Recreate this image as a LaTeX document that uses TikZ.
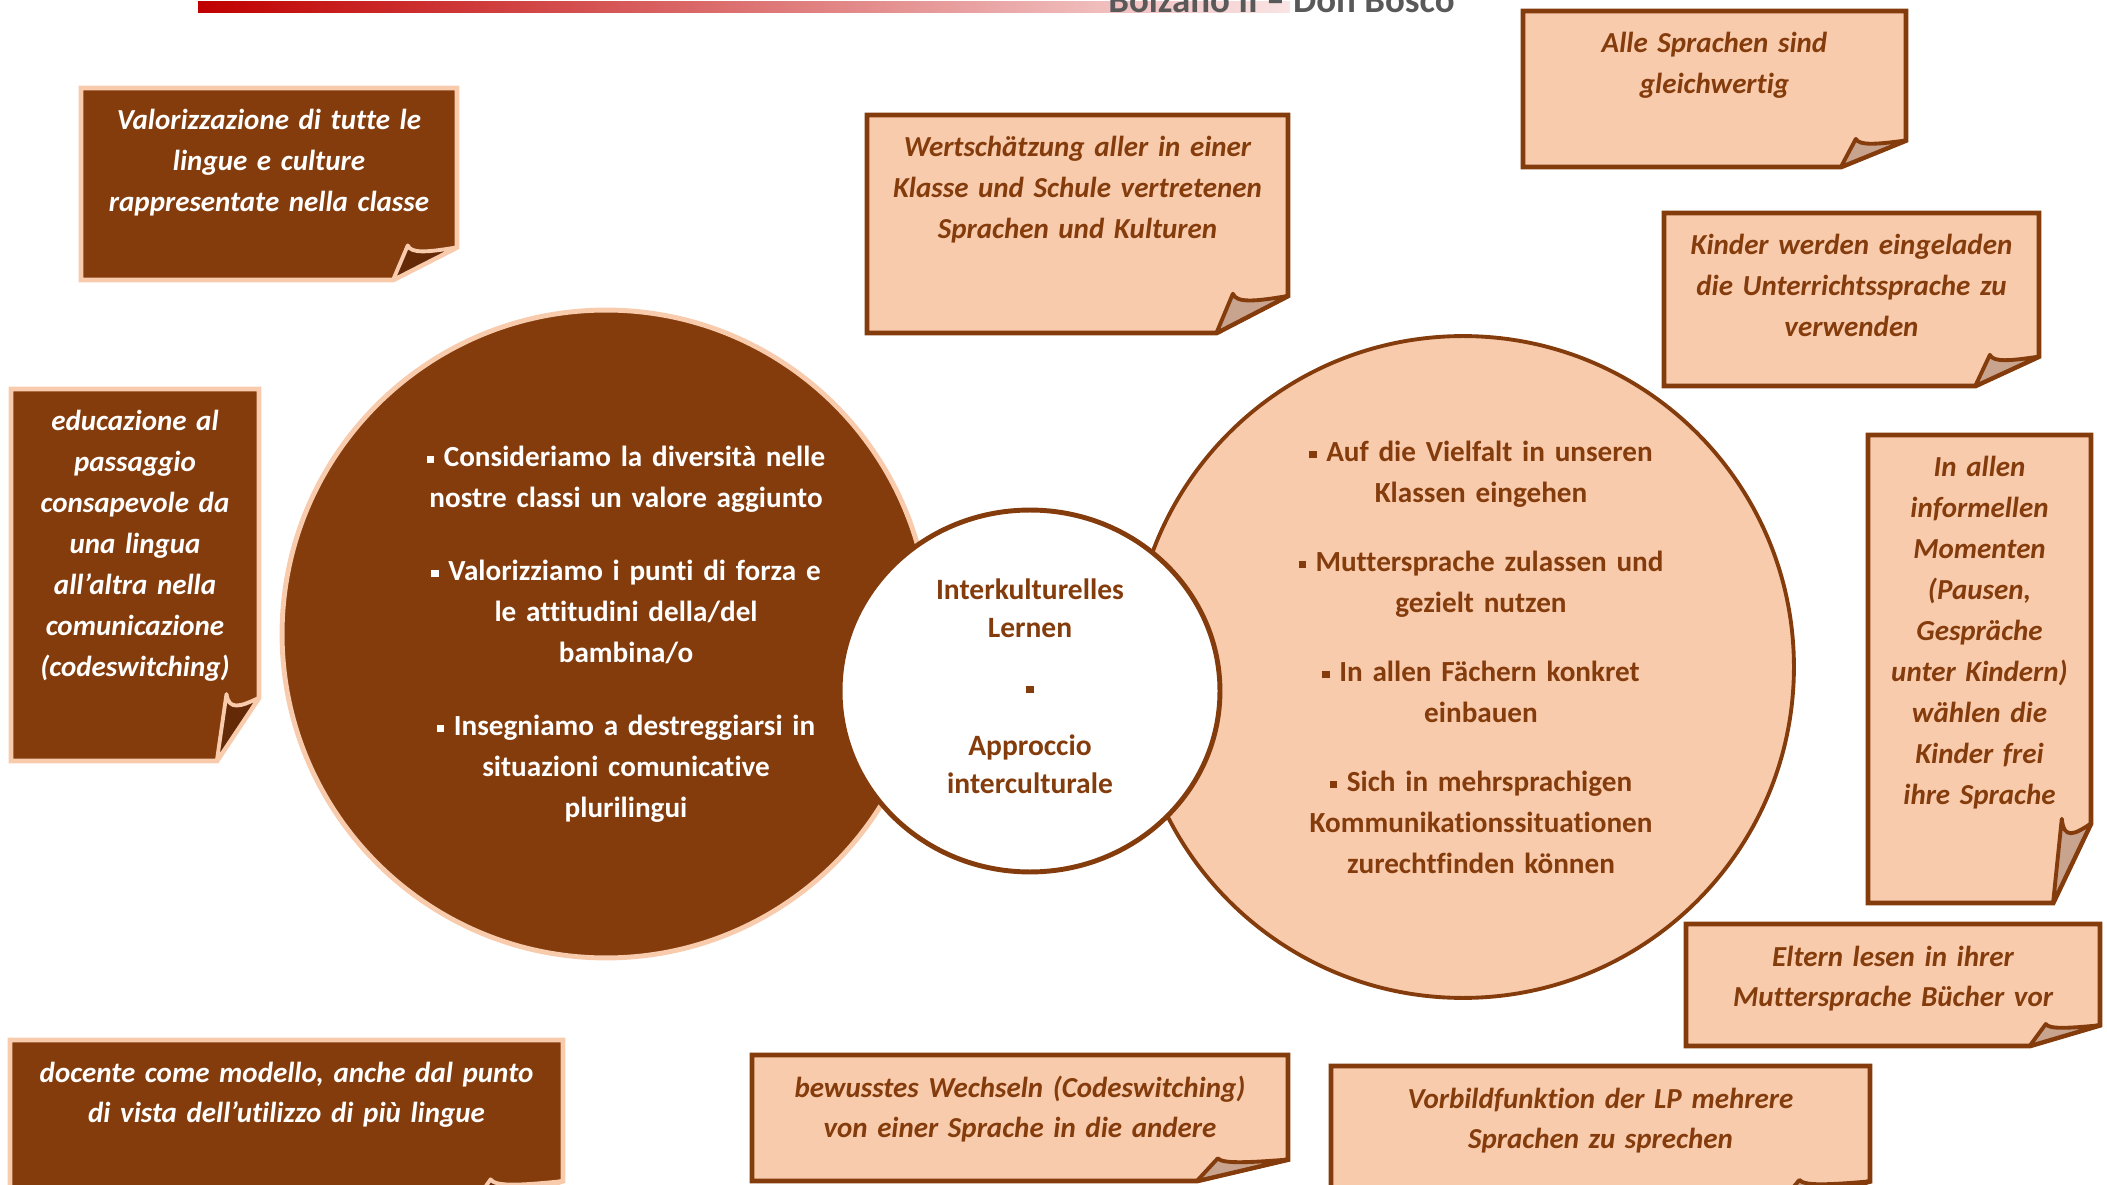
\documentclass[tikz,border=0pt]{standalone}
\usepackage{fontspec}
\setmainfont{Carlito}[Ligatures=NoCommon]
\usetikzlibrary{positioning}
\usetikzlibrary{calc}
\usetikzlibrary{shapes.geometric}

\definecolor{brn}{RGB}{132,60,12}
\definecolor{peach}{RGB}{248,203,173}
\definecolor{folddark}{RGB}{100,42,8}
\definecolor{foldlight}{RGB}{200,163,142}
\definecolor{headgray}{RGB}{89,89,89}
\definecolor{barred}{RGB}{192,0,0}
\definecolor{barpink}{RGB}{250,228,228}

\newcommand{\sqb}{\raisebox{0.12em}{\rule{0.25em}{0.25em}}}

\tikzset{
  darknote/.style={fill=brn, draw=peach, line width=2.8pt},
  lightnote/.style={fill=peach, draw=brn, line width=2.8pt},
  darkfold/.style={fill=folddark, draw=peach, line width=2.2pt, line join=round},
  lightfold/.style={fill=foldlight, draw=brn, line width=2.2pt, line join=round},
  notefont/.style={font=\fontsize{16.5}{23.3}\selectfont\bfseries\itshape, text width=12cm, align=center, inner sep=0pt, anchor=base},
  darktext/.style={notefont, text=white},
  lighttext/.style={notefont, text=brn},
  circtext/.style={font=\fontsize{16.6}{23.3}\selectfont\bfseries, text width=12cm, align=center, inner sep=0pt, anchor=base},
}

% #1 dark/light, #2 name, #3 top left, #4 bottom right, #5 text
\newcommand{\foldnote}[5]{%
  \coordinate (#2nw) at (#3);
  \coordinate (#2se) at (#4);
  \path[#1note] let \p1=(#2nw), \p2=(#2se), \n1={\x2-\x1}, \n2={\y1-\y2} in
    (\x1,\y1) -- (\x2,\y1) -- (\x2,{\y2+0.17*\n2}) -- ({\x2-0.17*\n1},\y2) -- (\x1,\y2) -- cycle;
  \path[#1fold] let \p1=(#2nw), \p2=(#2se), \n1={\x2-\x1}, \n2={\y1-\y2} in
    ({\x2-0.17*\n1},\y2) -- ({\x2-0.131*\n1},{\y2+0.18*\n2})
    .. controls ({\x2-0.122*\n1},{\y2+0.136*\n2}) and ({\x2-0.077*\n1},{\y2+0.145*\n2}) .. (\x2,{\y2+0.17*\n2}) -- cycle;
  \node[#1text] (#2) at ($(#2nw -| #2se)!0.5!(#2nw) + (0,42)$) {#5};
}

\begin{document}
\begin{tikzpicture}[x=0.02cm, y=-0.02cm]
  \useasboundingbox (0,0) rectangle (2107,1185);

  % header
  \fill[left color=barred, right color=barpink] (198,2) rectangle (1290,13);
  \node[font=\fontsize{21}{25}\selectfont\bfseries, text=headgray, anchor=base west, inner sep=0pt] (title) at (1108,13) {Bolzano II – Don Bosco};

  % circles
  \node[circle, minimum size=12.96cm, fill=brn, draw=peach, line width=2.8pt] (lc) at (606,634) {};
  \node[circle, minimum size=13.24cm, fill=peach, draw=brn, line width=2.2pt] (rc) at (1463,667) {};
  \node[ellipse, minimum width=7.6cm, minimum height=7.24cm, fill=white, draw=brn, line width=2.8pt] (cc) at (1030,691) {};

  \node[circtext, text=white] (lctext) at ($(lc.center)+(20,-167)$) {\sqb{} Consideriamo la diversità nelle\\nostre classi un valore aggiunto\\[0.64cm]\sqb{} Valorizziamo i punti di forza e\\le attitudini della/del\\bambina/o\\[0.64cm]\sqb{} Insegniamo a destreggiarsi in\\situazioni comunicative\\plurilingui};
  \node[circtext, text=brn] (rctext) at ($(rc.center)+(18,-205)$) {\sqb{} Auf die Vielfalt in unseren\\Klassen eingehen\\[0.56cm]\sqb{} Muttersprache zulassen und\\gezielt nutzen\\[0.56cm]\sqb{} In allen Fächern konkret\\einbauen\\[0.56cm]\sqb{} Sich in mehrsprachigen\\Kommunikationssituationen\\zurechtfinden können};
  \node[circtext, text=brn, font=\fontsize{16.8}{21.6}\selectfont\bfseries] (cctext) at ($(cc.center)+(0,-91)$) {Interkulturelles\\Lernen\\[0.42cm]\sqb\\[0.42cm]Approccio\\interculturale};

  % notes
  \foldnote{dark}{valor}{81,88}{457,280}{Valorizzazione di tutte le\\lingue e culture\\rappresentate nella classe}
  \foldnote{light}{wert}{867,115}{1288,333}{Wertschätzung aller in einer\\Klasse und Schule vertretenen\\Sprachen und Kulturen}
  \foldnote{light}{gleich}{1523,11}{1906,167}{Alle Sprachen sind\\gleichwertig}
  \foldnote{light}{kinder}{1664,213}{2039,386}{Kinder werden eingeladen\\die Unterrichtssprache zu\\verwenden}
  \foldnote{light}{informell}{1868,435}{2091,903}{In allen\\informellen\\Momenten\\(Pausen,\\Gespräche\\unter Kindern)\\wählen die\\Kinder frei\\ihre Sprache}
  \foldnote{light}{eltern}{1686,924}{2100,1046}{Eltern lesen in ihrer\\Muttersprache Bücher vor}
  \foldnote{light}{vorbild}{1331,1066}{1870,1205}{Vorbildfunktion der LP mehrere\\Sprachen zu sprechen}
  \foldnote{light}{wechsel}{752,1055}{1288,1181}{bewusstes Wechseln (Codeswitching)\\von einer Sprache in die andere}
  \foldnote{dark}{docente}{10,1040}{563,1210}{docente come modello, anche dal punto\\di vista dell’utilizzo di più lingue}
  \foldnote{dark}{educa}{11,389}{259,761}{educazione al\\passaggio\\consapevole da\\una lingua\\all’altra nella\\comunicazione\\(codeswitching)}
\end{tikzpicture}
\end{document}
